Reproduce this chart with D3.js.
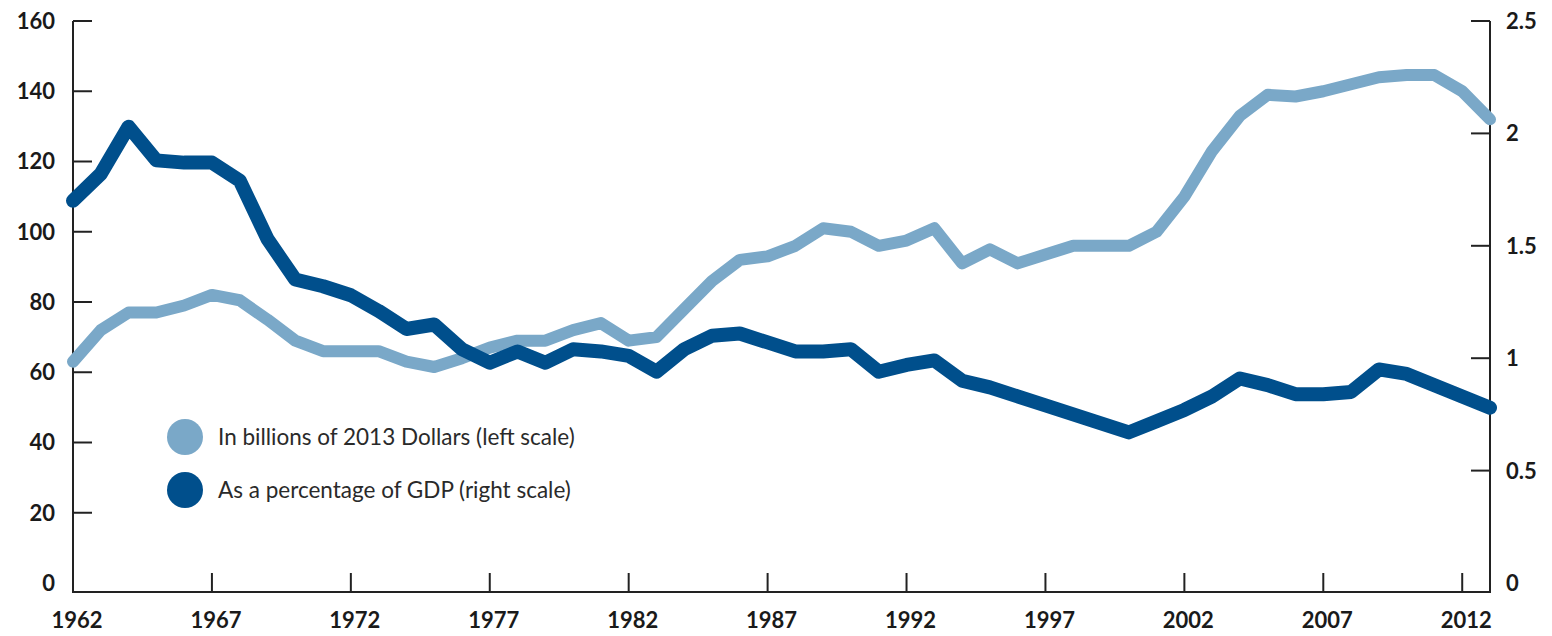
<!DOCTYPE html>
<html>
<head>
<meta charset="utf-8">
<script src="https://cdn.jsdelivr.net/npm/d3@7"></script>
<style>
  html, body { margin: 0; padding: 0; background: #fff; }
  svg { display: block; font-family: Lato, "Open Sans", sans-serif; }
  .tick-label { font-weight: 700; font-size: 22px; fill: #1a1a1a; }
  .legend-label { font-size: 22.5px; fill: #2a2a2a; }
</style>
</head>
<body>
<div id="chart"></div>
<script>
// yearly values
const years = d3.range(1962, 2014);
const billions = [
  63, 72, 77, 77, 79, 82, 80.5, 75, 69, 66,
  66, 66, 63, 61.5, 64, 67, 69, 69, 72, 74,
  69, 70, 78, 86, 92, 93, 96, 101, 100, 96,
  97.5, 101, 91, 95, 91, 93.5, 96, 96, 96, 100,
  110, 123, 133, 139, 138.5, 140, 142, 144, 144.6, 144.6,
  140, 132
];
const gdpShare = [
  1.70, 1.82, 2.03, 1.88, 1.87, 1.87, 1.79, 1.53, 1.35, 1.32,
  1.28, 1.21, 1.13, 1.15, 1.04, 0.98, 1.03, 0.98, 1.04, 1.03,
  1.01, 0.94, 1.04, 1.10, 1.11, 1.07, 1.03, 1.03, 1.04, 0.94,
  0.97, 0.99, 0.90, 0.87, 0.83, 0.79, 0.75, 0.71, 0.67, 0.72,
  0.77, 0.83, 0.91, 0.88, 0.84, 0.84, 0.85, 0.95, 0.93, 0.88,
  0.83, 0.78
];
const xTicks = [1962, 1967, 1972, 1977, 1982, 1987, 1992, 1997, 2002, 2007, 2012];
const leftTicks = [0, 20, 40, 60, 80, 100, 120, 140, 160];
const rightTicks = [0, 0.5, 1, 1.5, 2, 2.5];
const seriesNames = [
  "In billions of 2013 Dollars (left scale)",
  "As a percentage of GDP (right scale)"
];
const seriesColors = ["#7aa8c8", "#004f8c"];

class DualAxisLineChart {
  constructor(config) {
    this.config = {
      parentElement: config.parentElement,
      width: 1552,
      height: 636,
      margin: { top: 21, right: 62, bottom: 53, left: 73 }
    };
    this.initVis();
  }

  initVis() {
    let vis = this;
    const m = vis.config.margin;

    vis.svg = d3.select(vis.config.parentElement)
      .append("svg")
      .attr("width", vis.config.width)
      .attr("height", vis.config.height);

    vis.x = d3.scaleLinear()
      .domain([1962, 2013])
      .range([m.left, vis.config.width - m.right]);

    vis.yLeft = d3.scaleLinear()
      .domain([0, 160])
      .range([vis.config.height - m.bottom, m.top]);

    vis.yRight = d3.scaleLinear()
      .domain([0, 2.5])
      .range([vis.config.height - m.bottom, m.top]);

    // baseline sits a bit below the zero ticks, as in the original
    vis.baseY = vis.yLeft(0) + 9;

    this.drawAxes();
    this.drawLines();
    this.drawLegend();
  }

  drawAxes() {
    let vis = this;
    const x0 = vis.x.range()[0];
    const x1 = vis.x.range()[1];
    const top = vis.yLeft.range()[1];
    const tickLen = 19;

    const axes = vis.svg.append("g")
      .attr("stroke", "#222")
      .attr("stroke-width", 2)
      .attr("fill", "none");

    // frame: left, bottom and right lines
    axes.append("path")
      .attr("d", `M${x0},${top}V${vis.baseY}H${x1}V${top}`);

    // left ticks (point inward)
    axes.selectAll(".lt")
      .data(leftTicks.filter(d => d > 0))
      .join("line")
      .attr("x1", x0).attr("x2", x0 + tickLen)
      .attr("y1", d => vis.yLeft(d)).attr("y2", d => vis.yLeft(d));

    // right ticks
    axes.selectAll(".rt")
      .data(rightTicks.filter(d => d > 0))
      .join("line")
      .attr("x1", x1).attr("x2", x1 - tickLen)
      .attr("y1", d => vis.yRight(d)).attr("y2", d => vis.yRight(d));

    // bottom ticks
    axes.selectAll(".bt")
      .data(xTicks.slice(1))
      .join("line")
      .attr("x1", d => vis.x(d)).attr("x2", d => vis.x(d))
      .attr("y1", vis.baseY).attr("y2", vis.baseY - tickLen);

    vis.svg.append("g").selectAll("text")
      .data(leftTicks)
      .join("text")
      .attr("class", "tick-label")
      .attr("x", x0 - 18)
      .attr("y", d => vis.yLeft(d))
      .attr("dy", "0.36em")
      .attr("text-anchor", "end")
      .text(d => d);

    vis.svg.append("g").selectAll("text")
      .data(rightTicks)
      .join("text")
      .attr("class", "tick-label")
      .attr("x", x1 + 16)
      .attr("y", d => vis.yRight(d))
      .attr("dy", "0.36em")
      .attr("text-anchor", "start")
      .text(d => d);

    vis.svg.append("g").selectAll("text")
      .data(xTicks)
      .join("text")
      .attr("class", "tick-label")
      .attr("x", d => vis.x(d) + 4)
      .attr("y", vis.baseY + 36)
      .attr("text-anchor", "middle")
      .text(d => d);
  }

  drawLines() {
    let vis = this;

    const lineLeft = d3.line()
      .x((d, i) => vis.x(years[i]))
      .y(d => vis.yLeft(d));

    const lineRight = d3.line()
      .x((d, i) => vis.x(years[i]))
      .y(d => vis.yRight(d));

    vis.svg.append("path")
      .datum(billions)
      .attr("fill", "none")
      .attr("stroke", seriesColors[0])
      .attr("stroke-width", 12)
      .attr("stroke-linejoin", "round")
      .attr("stroke-linecap", "round")
      .attr("d", lineLeft);

    vis.svg.append("path")
      .datum(gdpShare)
      .attr("fill", "none")
      .attr("stroke", seriesColors[1])
      .attr("stroke-width", 14)
      .attr("stroke-linejoin", "round")
      .attr("stroke-linecap", "round")
      .attr("d", lineRight);
  }

  drawLegend() {
    let vis = this;
    const legend = vis.svg.append("g")
      .attr("transform", "translate(185, 437)");

    const items = legend.selectAll("g")
      .data(seriesNames)
      .join("g")
      .attr("transform", (d, i) => `translate(0, ${i * 53})`);

    items.append("circle")
      .attr("r", 18)
      .attr("fill", (d, i) => seriesColors[i]);

    items.append("text")
      .attr("class", "legend-label")
      .attr("x", 33)
      .attr("dy", "0.35em")
      .text(d => d);
  }
}

new DualAxisLineChart({ parentElement: "#chart" });
</script>
</body>
</html>
